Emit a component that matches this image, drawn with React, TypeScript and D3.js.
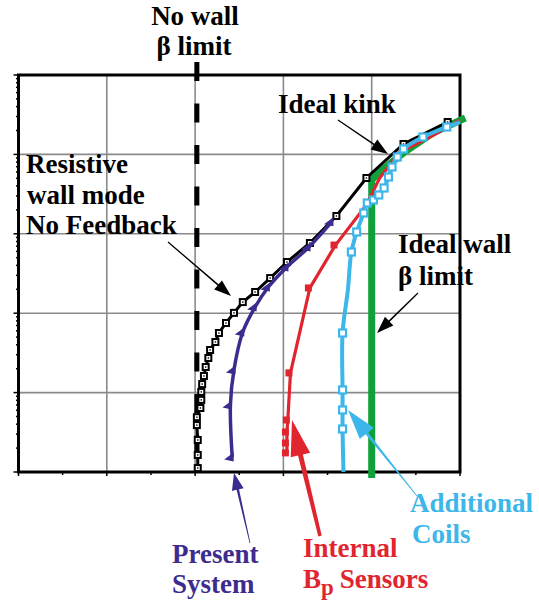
import React from "react";
import * as d3 from "d3";

// ---------- data (x: linear units, y: log-scale values) ----------
const rwmX = [2.03, 2.03, 2.03, 2.02, 2.02, 2.06, 2.07, 2.07, 2.08, 2.1, 2.12, 2.15, 2.17, 2.23, 2.27, 2.35, 2.44, 2.54, 2.68, 2.85, 3.04, 3.3, 3.6, 3.94, 4.36, 4.86];
const rwmY = [1.12, 1.64, 2.53, 3.9, 4.9, 6.4, 8.1, 10.2, 12.8, 16.2, 21, 27.3, 34.4, 43.4, 56.3, 75.3, 101, 138, 185, 277, 441, 766, 1676, 5044, 13520, 25580];

const presentX = [2.42, 2.4, 2.44, 2.54, 2.68, 2.83, 3.04, 3.29, 3.55];
const presentY = [1.55, 6.98, 19.3, 58, 120, 214, 382, 682, 1420];

const internalX = [3.04, 3.04, 3.04, 3.05, 3.08, 3.3, 3.59, 3.94, 4.09, 4.32, 4.66, 5.0];
const internalY = [1.74, 2.32, 3.19, 4.52, 17.7, 208, 722, 2305, 5044, 10720, 16560, 27100];

const coilsX = [3.68, 3.67, 3.67, 3.67, 3.67, 3.73, 3.77, 3.83, 3.91, 3.95, 4.02, 4.08, 4.14, 4.19, 4.23, 4.29, 4.36, 4.58, 4.85, 5.0];
const coilsY = [1, 3.48, 6.04, 10.8, 56.3, 196, 590, 1054, 1828, 2443, 2666, 3083, 3777, 5195, 6934, 9270, 11700, 16560, 22130, 25580];
const coilsMarked = [1, 2, 3, 4, 6, 7, 8, 9, 10, 11, 12, 13, 14, 15, 16, 17, 18];

const idealWallX = [4.0, 4.0, 4.09, 4.23, 4.36, 4.69, 5.06];
const idealWallY = [0.84, 4760, 6000, 8020, 10420, 18600, 28720];

const noWallX = 2.02;
const noWallY = [1, 146000];

const xGrid = [1, 2, 3, 4];
const yGrid = [10, 100, 1000, 10000];

// ---------- colours ----------
const PURPLE = "#3d2b8e";
const RED = "#e1252f";
const BLUE = "#3db6ea";
const GREEN = "#10a23a";

const FONT = "Liberation Serif";

const W = 539;
const H = 602;
const L = 18.5, R = 460, T = 75, B = 472;

const x = d3.scaleLinear().domain([0, 5]).range([L, R]);
const y = d3.scaleLog().domain([1, 1e5]).range([B, T]);

type Pt = [number, number];
const zip = (xs: number[], ys: number[]): Pt[] => xs.map((v, i) => [v, ys[i]]);

const lineGen = d3.line<Pt>().x((d) => x(d[0])).y((d) => y(d[1]));
const curveGen = d3
  .line<Pt>()
  .x((d) => x(d[0]))
  .y((d) => y(d[1]))
  .curve(d3.curveCatmullRom.alpha(0.5));

function arrow(x1: number, y1: number, x2: number, y2: number, w0: number, w1: number, hl: number, hw: number) {
  const dx = x2 - x1, dy = y2 - y1;
  const len = Math.hypot(dx, dy);
  const ux = dx / len, uy = dy / len;
  const nx = -uy, ny = ux;
  const bx = x2 - ux * hl, by = y2 - uy * hl;
  const p = (a: number, b: number) => `${a.toFixed(2)},${b.toFixed(2)}`;
  return (
    `M${p(x1 + (nx * w0) / 2, y1 + (ny * w0) / 2)}` +
    `L${p(bx + (nx * w1) / 2, by + (ny * w1) / 2)}` +
    `L${p(bx + (nx * hw) / 2, by + (ny * hw) / 2)}` +
    `L${p(x2, y2)}` +
    `L${p(bx - (nx * hw) / 2, by - (ny * hw) / 2)}` +
    `L${p(bx - (nx * w1) / 2, by - (ny * w1) / 2)}` +
    `L${p(x1 - (nx * w0) / 2, y1 - (ny * w0) / 2)}Z`
  );
}

export default function App() {
  const rwm = zip(rwmX, rwmY);
  const present = zip(presentX, presentY);
  const internal = zip(internalX, internalY);
  const coils = zip(coilsX, coilsY);
  const ideal = zip(idealWallX, idealWallY);

  const yTicks = y.ticks();
  const xTicks = d3.range(0, 5.01, 0.5);

  return (
    <svg width={W} height={H} style={{ position: "absolute", left: 0, top: 0, background: "#fff" }}>
      {/* grid */}
      {xGrid.map((g) => (
        <line key={"gx" + g} x1={x(g)} x2={x(g)} y1={T} y2={B} stroke="#8a8a8a" strokeWidth={1.6} />
      ))}
      {yGrid.map((g) => (
        <line key={"gy" + g} x1={L} x2={R} y1={y(g)} y2={y(g)} stroke="#8a8a8a" strokeWidth={1.6} />
      ))}

      {/* ticks */}
      {yTicks.map((t, i) => {
        const major = Math.abs(Math.log10(t) - Math.round(Math.log10(t))) < 1e-9;
        return (
          <line key={"ty" + i} x1={L - (major ? 5 : 2.5)} x2={L} y1={y(t)} y2={y(t)} stroke="#000" strokeWidth={1.5} />
        );
      })}
      {xTicks.map((t, i) => (
        <line key={"tx" + i} x1={x(t)} x2={x(t)} y1={B} y2={B + (Number.isInteger(t) ? 4 : 3)} stroke="#000" strokeWidth={1.5} />
      ))}

      {/* frame */}
      <rect x={L} y={T} width={R - L} height={B - T} fill="none" stroke="#000" strokeWidth={3} />

      {/* no-wall beta limit */}
      <line
        x1={x(noWallX)}
        x2={x(noWallX)}
        y1={y(noWallY[1])}
        y2={y(noWallY[0])}
        stroke="#000"
        strokeWidth={5}
        strokeDasharray="19,22.5"
      />

      {/* ideal wall (green) */}
      <path d={lineGen(ideal) || ""} fill="none" stroke={GREEN} strokeWidth={7} strokeLinejoin="round" />

      {/* RWM no feedback (black) */}
      <path d={lineGen(rwm) || ""} fill="none" stroke="#000" strokeWidth={3} />
      {rwm.map((d, i) => (
        <g key={"rm" + i} transform={`translate(${x(d[0])},${y(d[1])})`}>
          <rect x={-4} y={-4} width={8} height={8} fill="#000" />
          <rect x={-2} y={-2} width={4} height={4} fill="#fff" />
          <rect x={-0.7} y={-0.7} width={1.4} height={1.4} fill="#000" />
        </g>
      ))}

      {/* internal Bp sensors (red) */}
      <path d={lineGen(internal) || ""} fill="none" stroke={RED} strokeWidth={3.2} />
      {internal.slice(0, 7).map((d, i) => (
        <rect key={"ir" + i} x={x(d[0]) - 5} y={y(d[1]) - 3.5} width={7} height={7} fill={RED} />
      ))}

      {/* additional coils (blue) */}
      <path d={curveGen(coils) || ""} fill="none" stroke={BLUE} strokeWidth={4} />
      {coilsMarked.map((k) => (
        <rect key={"cb" + k} x={x(coils[k][0]) - 3.5} y={y(coils[k][1]) - 3.5} width={7} height={7} fill="#fff" stroke={BLUE} strokeWidth={2.2} />
      ))}

      {/* present system (purple) */}
      <path d={curveGen(present) || ""} fill="none" stroke={PURPLE} strokeWidth={3.5} />
      {present.map((d, i) => (
        <path key={"pp" + i} transform={`translate(${x(d[0])},${y(d[1])})`} d="M1.5,-4.5L1.5,4.5L-8,2.5Z" fill={PURPLE} />
      ))}

      {/* annotation arrows */}
      <path d={arrow(168, 242, 231, 296, 1.2, 1.6, 17, 12)} fill="#000" />
      <path d={arrow(338, 120, 388, 154, 1.2, 1.6, 17, 12)} fill="#000" />
      <path d={arrow(418, 293, 377, 333, 1.2, 1.6, 17, 12)} fill="#000" />
      <path d={arrow(250, 543, 234, 473, 0.8, 2.5, 17, 12)} fill={PURPLE} />
      <path d={arrow(320, 536, 292, 420, 3.5, 5, 36, 20)} fill={RED} />
      <path d={arrow(417, 496, 348, 410, 0.8, 3, 30, 18)} fill={BLUE} />

      {/* text */}
      <g fontSize={27} fontFamily={FONT} fontWeight="bold">
        <text x={195} y={25} textAnchor="middle" fontFamily={FONT}>No wall</text>
        <text x={194} y={55} textAnchor="middle" fontFamily={FONT}>β limit</text>

        <text x={26} y={173} fontFamily={FONT}>Resistive</text>
        <text x={27} y={204} fontFamily={FONT}>wall mode</text>
        <text x={26} y={234} fontFamily={FONT}>No Feedback</text>

        <text x={278} y={113} fontFamily={FONT}>Ideal kink</text>

        <text x={398} y={253} fontFamily={FONT}>Ideal wall</text>
        <text x={398} y={285} fontFamily={FONT}>β limit</text>

        <text x={172} y={563} fill={PURPLE} fontFamily={FONT}>Present</text>
        <text x={172} y={593} fill={PURPLE} fontFamily={FONT}>System</text>

        <text x={303} y={557} fill={RED} fontFamily={FONT}>Internal</text>
        <text x={303} y={588} fill={RED} fontFamily={FONT}>
          B<tspan fontSize={23} dy={7}>p</tspan>
          <tspan dy={-7} dx={6}>Sensors</tspan>
        </text>

        <text x={410} y={512} fill={BLUE} fontFamily={FONT}>Additional</text>
        <text x={412} y={543} fill={BLUE} fontFamily={FONT}>Coils</text>
      </g>
    </svg>
  );
}
